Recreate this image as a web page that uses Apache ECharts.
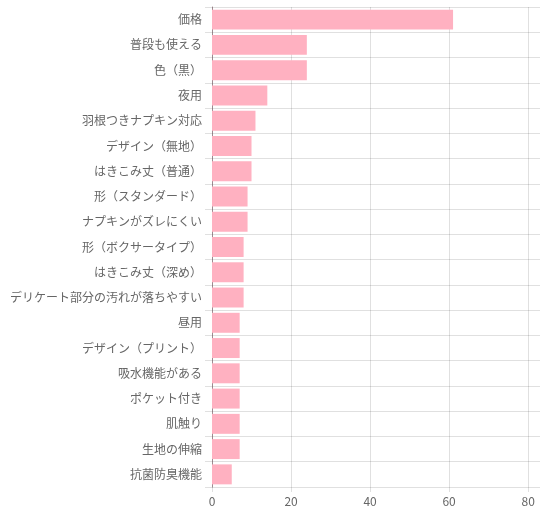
<!DOCTYPE html>
<html>
<head>
<meta charset="utf-8">
<script src="https://cdn.jsdelivr.net/npm/echarts@6/dist/echarts.min.js"></script>
<style>
  html, body { margin: 0; padding: 0; background: #fff; }
  #chart { width: 540px; height: 510px; }
</style>
</head>
<body>
<div id="chart"></div>
<script>
var categories = [
  '価格', '普段も使える', '色（黒）', '夜用', '羽根つきナプキン対応',
  'デザイン（無地）', 'はきこみ丈（普通）', '形（スタンダード）', 'ナプキンがズレにくい',
  '形（ボクサータイプ）', 'はきこみ丈（深め）', 'デリケート部分の汚れが落ちやすい',
  '昼用', 'デザイン（プリント）', '吸水機能がある', 'ポケット付き', '肌触り',
  '生地の伸縮', '抗菌防臭機能'
];
var values = [61, 24, 24, 14, 11, 10, 10, 9, 9, 8, 8, 8, 7, 7, 7, 7, 7, 7, 5];
var xTicks = [0, 20, 40, 60, 80];

var chart = echarts.init(document.getElementById('chart'));
var font = '"Noto Sans CJK JP", "Noto Sans", sans-serif';

chart.setOption({
  animation: false,
  // right edge pushed just off the canvas so the max split line isn't drawn
  grid: { left: 212, right: -2, top: 7, bottom: 23, containLabel: false },
  xAxis: {
    type: 'value',
    min: 0,
    max: 83,
    interval: 20,
    axisLine: { show: false },
    axisTick: { show: true, length: 5, lineStyle: { color: 'rgba(0,0,0,0.12)' } },
    axisLabel: {
      color: '#666', fontSize: 12, fontFamily: font, margin: 8,
      showMaxLabel: false,
      formatter: function (v) { return xTicks.indexOf(v) >= 0 ? String(v) : ''; }
    },
    splitLine: { show: true, lineStyle: { color: 'rgba(0,0,0,0.12)' } }
  },
  yAxis: {
    type: 'category',
    data: categories,
    inverse: true,
    axisLine: { show: true, lineStyle: { color: 'rgba(120,90,100,0.65)', width: 1 } },
    axisTick: { show: true, length: 7, lineStyle: { color: 'rgba(0,0,0,0.12)' } },
    axisLabel: { color: '#666', fontSize: 12, fontFamily: font, margin: 10 },
    splitLine: { show: true, lineStyle: { color: 'rgba(0,0,0,0.12)' } }
  },
  series: [{
    type: 'bar',
    data: values,
    barCategoryGap: '21%',
    itemStyle: { color: '#ffb1c1' }
  }]
});
</script>
</body>
</html>
